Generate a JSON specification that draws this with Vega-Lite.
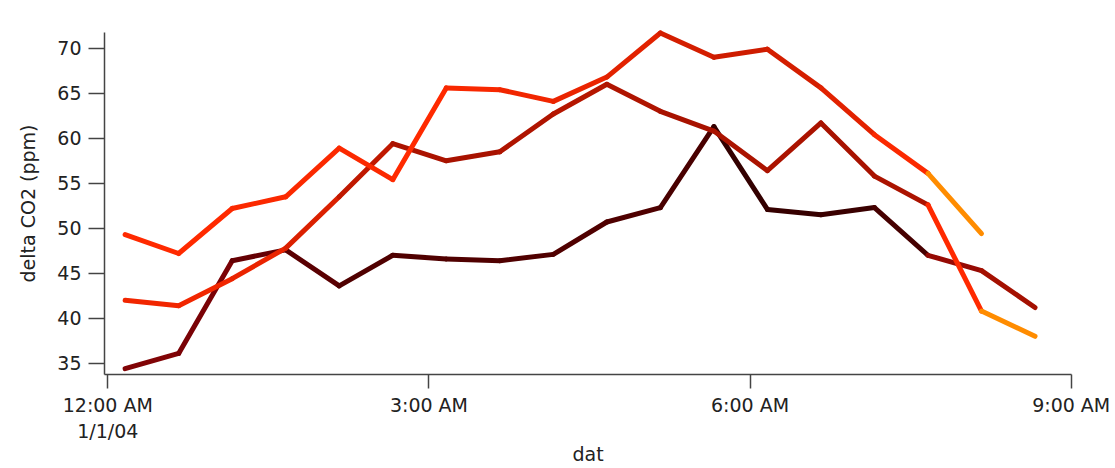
{
  "$schema": "https://vega.github.io/schema/vega-lite/v6.json",
  "width": 967,
  "height": 342,
  "autosize": {"type": "none"},
  "padding": {"left": 104, "top": 32, "right": 44, "bottom": 94},
  "background": "white",
  "config": {"view": {"stroke": null}, "font": "DejaVu Sans"},
  "data": {
    "format": {"parse": {"t": "date"}},
    "values": [
      {"series": "C", "t": "2004-01-01T00:10:00", "co2": 34.4, "heat": 44},
      {"series": "C", "t": "2004-01-01T00:40:00", "co2": 36.1, "heat": 42},
      {"series": "C", "t": "2004-01-01T01:10:00", "co2": 46.4, "heat": 36},
      {"series": "C", "t": "2004-01-01T01:40:00", "co2": 47.6, "heat": 33},
      {"series": "C", "t": "2004-01-01T02:10:00", "co2": 43.6, "heat": 30},
      {"series": "C", "t": "2004-01-01T02:40:00", "co2": 47.0, "heat": 30},
      {"series": "C", "t": "2004-01-01T03:10:00", "co2": 46.6, "heat": 30},
      {"series": "C", "t": "2004-01-01T03:40:00", "co2": 46.4, "heat": 30},
      {"series": "C", "t": "2004-01-01T04:10:00", "co2": 47.1, "heat": 30},
      {"series": "C", "t": "2004-01-01T04:40:00", "co2": 50.7, "heat": 29},
      {"series": "C", "t": "2004-01-01T05:10:00", "co2": 52.3, "heat": 24},
      {"series": "C", "t": "2004-01-01T05:40:00", "co2": 61.3, "heat": 0},
      {"series": "C", "t": "2004-01-01T06:10:00", "co2": 52.1, "heat": 5},
      {"series": "C", "t": "2004-01-01T06:40:00", "co2": 51.5, "heat": 10},
      {"series": "C", "t": "2004-01-01T07:10:00", "co2": 52.3, "heat": 22},
      {"series": "C", "t": "2004-01-01T07:40:00", "co2": 47.0, "heat": 50},
      {"series": "C", "t": "2004-01-01T08:10:00", "co2": 45.3, "heat": 54},
      {"series": "C", "t": "2004-01-01T08:40:00", "co2": 41.2, "heat": 54},
      {"series": "B", "t": "2004-01-01T00:10:00", "co2": 42.0, "heat": 76},
      {"series": "B", "t": "2004-01-01T00:40:00", "co2": 41.4, "heat": 76},
      {"series": "B", "t": "2004-01-01T01:10:00", "co2": 44.4, "heat": 74},
      {"series": "B", "t": "2004-01-01T01:40:00", "co2": 47.8, "heat": 70},
      {"series": "B", "t": "2004-01-01T02:10:00", "co2": 53.5, "heat": 62},
      {"series": "B", "t": "2004-01-01T02:40:00", "co2": 59.4, "heat": 56},
      {"series": "B", "t": "2004-01-01T03:10:00", "co2": 57.5, "heat": 55},
      {"series": "B", "t": "2004-01-01T03:40:00", "co2": 58.5, "heat": 57},
      {"series": "B", "t": "2004-01-01T04:10:00", "co2": 62.7, "heat": 59},
      {"series": "B", "t": "2004-01-01T04:40:00", "co2": 66.0, "heat": 57},
      {"series": "B", "t": "2004-01-01T05:10:00", "co2": 63.0, "heat": 55},
      {"series": "B", "t": "2004-01-01T05:40:00", "co2": 60.8, "heat": 56},
      {"series": "B", "t": "2004-01-01T06:10:00", "co2": 56.4, "heat": 56},
      {"series": "B", "t": "2004-01-01T06:40:00", "co2": 61.7, "heat": 55},
      {"series": "B", "t": "2004-01-01T07:10:00", "co2": 55.8, "heat": 56},
      {"series": "B", "t": "2004-01-01T07:40:00", "co2": 52.6, "heat": 80},
      {"series": "B", "t": "2004-01-01T08:10:00", "co2": 40.8, "heat": 100},
      {"series": "B", "t": "2004-01-01T08:40:00", "co2": 38.0, "heat": 100},
      {"series": "A", "t": "2004-01-01T00:10:00", "co2": 49.3, "heat": 80},
      {"series": "A", "t": "2004-01-01T00:40:00", "co2": 47.2, "heat": 80},
      {"series": "A", "t": "2004-01-01T01:10:00", "co2": 52.2, "heat": 79},
      {"series": "A", "t": "2004-01-01T01:40:00", "co2": 53.5, "heat": 79},
      {"series": "A", "t": "2004-01-01T02:10:00", "co2": 58.9, "heat": 79},
      {"series": "A", "t": "2004-01-01T02:40:00", "co2": 55.4, "heat": 80},
      {"series": "A", "t": "2004-01-01T03:10:00", "co2": 65.6, "heat": 78},
      {"series": "A", "t": "2004-01-01T03:40:00", "co2": 65.4, "heat": 76},
      {"series": "A", "t": "2004-01-01T04:10:00", "co2": 64.1, "heat": 74},
      {"series": "A", "t": "2004-01-01T04:40:00", "co2": 66.8, "heat": 72},
      {"series": "A", "t": "2004-01-01T05:10:00", "co2": 71.7, "heat": 68},
      {"series": "A", "t": "2004-01-01T05:40:00", "co2": 69.0, "heat": 66},
      {"series": "A", "t": "2004-01-01T06:10:00", "co2": 69.9, "heat": 68},
      {"series": "A", "t": "2004-01-01T06:40:00", "co2": 65.6, "heat": 72},
      {"series": "A", "t": "2004-01-01T07:10:00", "co2": 60.4, "heat": 79},
      {"series": "A", "t": "2004-01-01T07:40:00", "co2": 56.1, "heat": 100},
      {"series": "A", "t": "2004-01-01T08:10:00", "co2": 49.4, "heat": 100}
    ]
  },
  "transform": [
    {
      "window": [
        {"op": "lead", "field": "t", "as": "t_next"},
        {"op": "lead", "field": "co2", "as": "co2_next"}
      ],
      "groupby": ["series"],
      "sort": [{"field": "t", "order": "ascending"}]
    },
    {"filter": "datum.t_next != null"}
  ],
  "mark": {"type": "rule", "strokeWidth": 5, "strokeCap": "round"},
  "encoding": {
    "x": {
      "field": "t",
      "type": "temporal",
      "title": "dat",
      "scale": {
        "domain": [
          {"year": 2003, "month": 12, "date": 31, "hours": 23, "minutes": 58, "seconds": 9},
          {"year": 2004, "month": 1, "date": 1, "hours": 9, "minutes": 0, "seconds": 10}
        ]
      },
      "axis": {
        "values": [
          {"year": 2004, "month": 1, "date": 1, "hours": 0},
          {"year": 2004, "month": 1, "date": 1, "hours": 3},
          {"year": 2004, "month": 1, "date": 1, "hours": 6},
          {"year": 2004, "month": 1, "date": 1, "hours": 9}
        ],
        "labelExpr": "hours(datum.value) == 0 ? ['12:00 AM', '1/1/04'] : timeFormat(datum.value, '%-I:%M %p')",
        "labelFontSize": 19,
        "labelColor": "#222222",
        "labelPadding": 8,
        "labelLineHeight": 26,
        "labelFlush": false,
        "labelOverlap": false,
        "tickSize": 14,
        "tickColor": "#444444",
        "tickWidth": 1.5,
        "domainColor": "#444444",
        "domainWidth": 1.5,
        "grid": false,
        "titleFontSize": 19,
        "titleFontWeight": "normal",
        "titleColor": "#222222",
        "titlePadding": 4
      }
    },
    "x2": {"field": "t_next"},
    "y": {
      "field": "co2",
      "type": "quantitative",
      "title": "delta CO2 (ppm)",
      "scale": {"domain": [33.81, 71.81], "nice": false, "zero": false},
      "axis": {
        "values": [35, 40, 45, 50, 55, 60, 65, 70],
        "labelFontSize": 19,
        "labelColor": "#222222",
        "labelPadding": 7,
        "tickSize": 16,
        "tickColor": "#444444",
        "tickWidth": 1.5,
        "domainColor": "#444444",
        "domainWidth": 1.5,
        "grid": false,
        "titleFontSize": 19,
        "titleFontWeight": "normal",
        "titleColor": "#222222",
        "titlePadding": 18
      }
    },
    "y2": {"field": "co2_next"},
    "color": {
      "field": "heat",
      "type": "quantitative",
      "scale": {
        "domain": [0, 30, 55, 80, 100],
        "range": ["#000000", "#500000", "#a81200", "#ff2a00", "#ff8c00"]
      },
      "legend": null
    }
  }
}
